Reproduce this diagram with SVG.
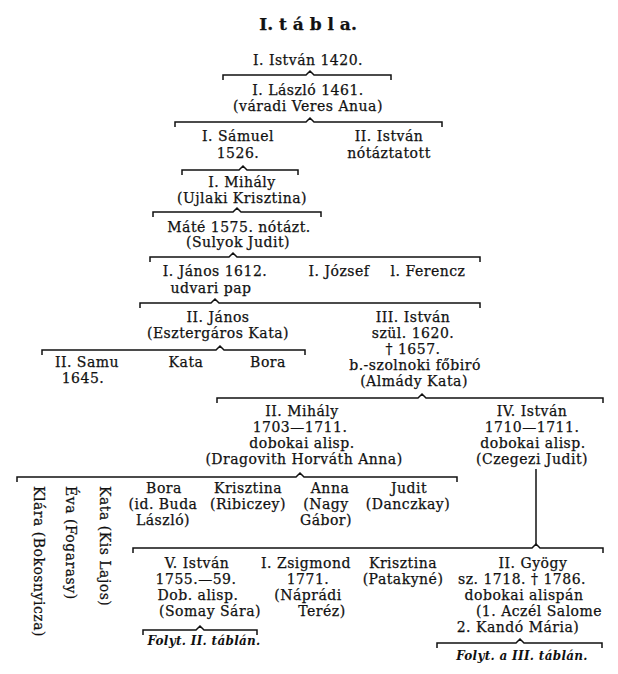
<svg xmlns="http://www.w3.org/2000/svg" width="618" height="674" viewBox="0 0 618 674">
<style>
text{font-family:"DejaVu Serif","Liberation Serif",serif;font-size:14px;letter-spacing:0.5px;fill:#111;stroke:#111;stroke-width:0.25;text-anchor:middle}
.t{font-size:17px;font-weight:bold;letter-spacing:0}
.i{font-style:italic;font-weight:bold;font-size:12px;letter-spacing:0.3px;stroke-width:0}
.v{text-anchor:start}
.br{fill:none;stroke:#111;stroke-width:1.5}
</style>
<rect width="618" height="674" fill="#fff"/>
<text class="t" x="308" y="30">I.  t á b l a.</text>
<g id="connectors" class="br">
<path d="M223 80V75H306L310 71L314 75H391V80"/>
<path d="M175 127V122H306L310 118L314 122H442V127"/>
<path d="M182 175V170H239L243 166L247 170H298V175"/>
<path d="M153 217V212H233L237 208L241 212H321V217"/>
<path d="M150 262V257H229L233 253L237 257H480V262"/>
<path d="M140 308V303H211L215 299L219 303H480V308"/>
<path d="M42 355V350H216L220 346L224 350H305V355"/>
<path d="M217 403V398H418L422 394L426 398H603V403"/>
<path d="M17 482V477H296L300 473L304 477H457V482"/>
<path d="M536 469V544"/>
<path d="M133 553V548H532L536 544L540 548H603V553"/>
<path d="M143 635V630H196L200 626L204 630H257V635"/>
<path d="M437 648V643H516L520 639L524 643H602V648"/>
</g>
<g id="n1"><text x="308" y="65">I. István 1420.</text></g>
<g id="n2"><text x="308" y="95">I. László 1461.</text><text x="308" y="111">(váradi Veres Anua)</text></g>
<g id="n3"><text x="238" y="141">I. Sámuel</text><text x="238" y="158">1526.</text></g>
<g id="n4"><text x="389" y="141">II. István</text><text x="389" y="158">nótáztatott</text></g>
<g id="n5"><text x="242" y="187">I. Mihály</text><text x="242" y="203">(Ujlaki Krisztina)</text></g>
<g id="n6"><text x="239" y="232">Máté 1575. nótázt.</text><text x="238" y="247">(Sulyok Judit)</text></g>
<g id="n7"><text x="215" y="276">I. János 1612.</text><text x="211" y="293">udvari pap</text></g>
<g id="n8"><text x="339" y="276">I. József</text></g>
<g id="n9"><text x="428" y="276">l. Ferencz</text></g>
<g id="n10"><text x="218" y="322">II. János</text><text x="218" y="338">(Esztergáros Kata)</text></g>
<g id="n11"><text x="413" y="322">III. István</text><text x="413" y="338">szül. 1620.</text><text x="413" y="354">† 1657.</text><text x="415" y="370">b.-szolnoki főbiró</text><text x="414" y="386">(Almády Kata)</text></g>
<g id="n12"><text x="87" y="367">II. Samu</text><text x="83" y="383">1645.</text></g>
<g id="n13"><text x="186" y="367">Kata</text></g>
<g id="n14"><text x="268" y="367">Bora</text></g>
<g id="n15"><text x="302" y="416">II. Mihály</text><text x="300" y="432">1703—1711.</text><text x="302" y="448">dobokai alisp.</text><text x="304" y="464">(Dragovith Horváth Anna)</text></g>
<g id="n16"><text x="532" y="416">IV. István</text><text x="532" y="432">1710—1711.</text><text x="533" y="448">dobokai alisp.</text><text x="532" y="464">(Czegezi Judit)</text></g>
<g id="n17"><text class="v" transform="translate(34,486) rotate(90)">Klára (Bokosnyicza)</text></g>
<g id="n18"><text class="v" transform="translate(66,486) rotate(90)">Éva (Fogarasy)</text></g>
<g id="n19"><text class="v" transform="translate(100,486) rotate(90)">Kata (Kis Lajos)</text></g>
<g id="n20"><text x="164" y="493">Bora</text><text x="163" y="509">(id. Buda</text><text x="163" y="525">László)</text></g>
<g id="n21"><text x="248" y="493">Krisztina</text><text x="248" y="509">(Ribiczey)</text></g>
<g id="n22"><text x="330" y="493">Anna</text><text x="326" y="509">(Nagy</text><text x="326" y="525">Gábor)</text></g>
<g id="n23"><text x="409" y="493">Judit</text><text x="408" y="509">(Danczkay)</text></g>
<g id="n24"><text x="197" y="568">V. István</text><text x="196" y="584">1755.—59.</text><text x="198" y="600">Dob. alisp.</text><text x="210" y="616">(Somay Sára)</text></g>
<g id="n25"><text x="306" y="568">I. Zsigmond</text><text x="308" y="584">1771.</text><text x="308" y="600">(Náprádi</text><text x="322" y="616">Teréz)</text></g>
<g id="n26"><text x="403" y="568">Krisztina</text><text x="403" y="584">(Patakyné)</text></g>
<g id="n27"><text x="533" y="568">II. Gyögy</text><text x="522" y="584">sz. 1718. † 1786.</text><text x="524" y="600">dobokai alispán</text><text x="539" y="616">(1. Aczél Salome</text><text x="518" y="632">2. Kandó Mária)</text></g>
<g id="n28"><text class="i" x="204" y="645">Folyt. II. táblán.</text></g>
<g id="n29"><text class="i" x="522" y="660">Folyt. a III. táblán.</text></g>
</svg>
